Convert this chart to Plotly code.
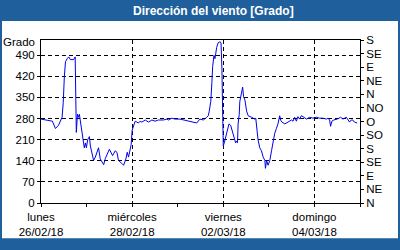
import pandas as pd
import plotly.graph_objects as go

# ---- data ----
start = "2018-02-26 00:00"
hours = [0, 3.4, 6.0, 7.6, 9.2, 11.1, 11.7, 12.3, 12.9, 13.8, 14.6, 15.5, 16.4, 17.2, 18.0, 18.3,
         18.6, 19.2, 19.7, 20.2, 20.7, 21.6, 22.2, 22.8, 23.4, 23.9, 24.6, 25.5, 26.0, 26.9, 27.7,
         28.6, 29.5, 30.3, 31.2, 32.1, 33.0, 33.9, 34.8, 35.6, 36.0, 37.7, 39.1, 40.0, 40.8, 42.6,
         43.5, 44.7, 45.4, 46.1, 47.0, 47.5, 48.0, 48.7, 49.6, 50.5, 51.3, 52.2, 53.1, 54.9, 56.6,
         58.4, 60.1, 61.8, 64.5, 66.3, 67.1, 68.9, 70.6, 73.2, 75.0, 78.5, 80.1, 82.0, 83.7, 85.5,
         87.3, 88.1, 88.6, 89.4, 90.0, 90.4, 91.1, 91.6, 92.0, 92.5, 93.3, 94.2, 94.8, 95.3, 95.7,
         96.0, 96.5, 97.2, 98.1, 99.0, 99.9, 100.7, 101.6, 102.5, 103.0, 103.5, 103.8, 104.4, 104.7,
         105.6, 106.2, 106.7, 107.4, 108.3, 109.1, 110.9, 112.6, 113.1, 113.5, 114.3, 115.2, 116.1,
         117.0, 117.9, 118.2, 118.8, 119.6, 120.5, 121.4, 122.2, 123.1, 124.0, 124.8, 125.7, 126.3,
         126.9, 128.4, 130.1, 131.9, 132.7, 133.6, 134.5, 135.3, 136.2, 137.1, 138.0, 139.8, 141.5,
         143.2, 145.0, 146.7, 148.5, 150.3, 151.1, 152.0, 152.5, 153.2, 154.2, 156.0, 157.8, 159.0,
         160.8, 161.6, 162.5, 163.4, 164.2, 165.1, 166.5]
direction = [278, 275, 271, 247, 257, 284, 332, 420, 468, 478, 484, 475, 475, 475, 484, 304,
             234, 294, 284, 294, 273, 247, 215, 183, 199, 183, 210, 220, 189, 168, 141,
             152, 173, 183, 146, 136, 127, 148, 162, 173, 178, 157, 173, 168, 141, 131,
             125, 146, 168, 152, 173, 194, 241, 257, 271, 268, 265, 271, 268, 275, 268,
             275, 271, 275, 275, 278, 275, 281, 278, 278, 275, 271, 268, 265, 278, 275,
             284, 289, 304, 336, 399, 452, 489, 478, 494, 515, 531, 534, 531, 442, 284,
             189, 199, 215, 236, 262, 257, 241, 225, 199, 205, 200, 262, 294, 336,
             363, 384, 352, 341, 304, 289, 284, 278, 281, 252, 210, 183, 173,
             152, 141, 115, 141, 125, 141, 173, 199, 231, 247, 262, 289, 273,
             268, 262, 268, 275, 271, 284, 271, 286, 278, 289, 286, 278, 284,
             281, 284, 281, 281, 278, 281, 275, 254, 271, 275, 278, 284, 278,
             284, 275, 268, 275, 275, 268, 265]

left_ticks = [0, 70, 140, 210, 280, 350, 420, 490]
right_ticks = [0, 45, 90, 135, 180, 225, 270, 315, 360, 405, 450, 495, 540]
right_labels = ["N", "NE", "E", "SE", "S", "SO", "O", "NO", "N", "NE", "E", "SE", "S"]
x_tick_dates = ["2018-02-26", "2018-02-28", "2018-03-02", "2018-03-04"]
x_tick_text = ["lunes<br>26/02/18", "miércoles<br>28/02/18", "viernes<br>02/03/18", "domingo<br>04/03/18"]
title_text = "Dirección del viento [Grado]"
y_unit = "Grado"

times = pd.Timestamp(start) + pd.to_timedelta(hours, unit="h")

FRAME = "#1f5f9c"
FONT = "Liberation Sans"
W, H = 400, 250
L, R, T, B = 41, 40, 40, 39
pw, ph = W - L - R, H - T - B

def px(x):
    return (x - L) / pw

def py(y):
    return (H - B - y) / ph

fig = go.Figure()
fig.add_trace(go.Scatter(x=times, y=direction, mode="lines",
                         line=dict(color="#0000ee", width=1), hoverinfo="skip",
                         showlegend=False))
# invisible trace for right axis
fig.add_trace(go.Scatter(x=[times[0]], y=[0], yaxis="y2", mode="markers",
                         marker=dict(opacity=0), hoverinfo="skip", showlegend=False))

fig.update_layout(
    width=W, height=H,
    margin=dict(l=L, r=R, t=T, b=B, pad=0),
    paper_bgcolor=FRAME, plot_bgcolor="white",
    font=dict(family=FONT, size=11.5, color="#000000"),
    xaxis=dict(range=["2018-02-26", "2018-03-05"], type="date",
               tickvals=x_tick_dates, ticktext=x_tick_text,
               ticks="outside", ticklen=3, tickcolor="black",
               showline=True, linecolor="black", linewidth=1, mirror=True,
               showgrid=True, gridcolor="black", gridwidth=1, griddash="4px,3px",
               minor=dict(dtick=86400000, ticks="outside", ticklen=3, tickcolor="black",
                          showgrid=False, tick0="2018-02-26"),
               zeroline=False, fixedrange=True),
    yaxis=dict(range=[0, 540], tickvals=left_ticks, ticks="outside", ticklen=3,
               tickcolor="black",
               showline=True, linecolor="black", linewidth=1, mirror=True,
               showgrid=True, gridcolor="black", gridwidth=1, griddash="4px,3px",
               zeroline=False, fixedrange=True),
    yaxis2=dict(range=[0, 540], overlaying="y", side="right",
                tickvals=right_ticks, ticktext=right_labels,
                ticks="outside", ticklen=3, tickcolor="black",
                showline=True, linecolor="black", linewidth=1,
                showgrid=False, zeroline=False, fixedrange=True),
    shapes=[dict(type="rect", xref="paper", yref="paper", layer="below",
                 x0=px(2), x1=px(398), y0=py(248), y1=py(20),
                 fillcolor="white", line=dict(width=0))],
    annotations=[
        dict(text="<b>" + title_text + "</b>", xref="paper", yref="paper",
             x=px(213), y=py(10), xanchor="center", yanchor="middle", showarrow=False,
             font=dict(family=FONT, size=12, color="white")),
        dict(text=y_unit, xref="paper", yref="paper", x=px(37), y=py(42.5),
             xanchor="right", yanchor="middle", showarrow=False,
             font=dict(family=FONT, size=11.5, color="black")),
    ],
)

fig.write_html("out.html")
